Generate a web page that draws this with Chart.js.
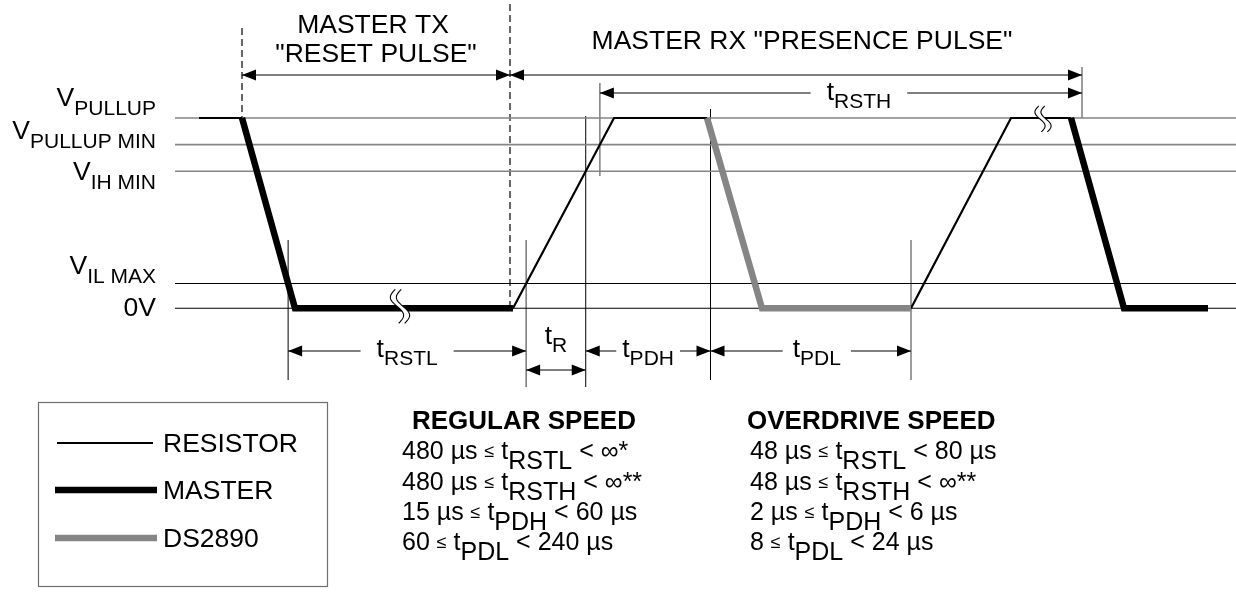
<!DOCTYPE html>
<html lang="en">
<head>
<meta charset="UTF-8">
<title>Reset and presence pulse timing</title>
<script src="https://cdn.jsdelivr.net/npm/chart.js@4.4.1/dist/chart.umd.min.js"></script>
<style>
  html, body { margin: 0; padding: 0; background: #fff; }
  canvas { display: block; }
</style>
</head>
<body>
<canvas id="timing" width="1236" height="609"></canvas>
<script>
// ---- data (diagram is not to scale) ----
// voltage levels, volts
const levelNames = ['PULLUP', 'PULLUP MIN', 'IH MIN', 'IL MAX', '0V'];
const levelValues = [5, 4.3, 3.6, 0.65, 0];

// time in diagram units, null = gap between segments
const resistorT = [19.9, 24.2, null, 51.3, 61.4, 70.7, null, 91.1, 101.1, 107.1];
const resistorV = [5, 5, null, 0, 5, 5, null, 0, 5, 5];
const masterT = [24.2, 29.5, 51.3, null, 107.1, 112.4, 120.8];
const masterV = [5, 0, 0, null, 5, 0, 0];
const ds2890T = [70.7, 76.2, 91.1];
const ds2890V = [5, 0, 0];
const seriesNames = ['RESISTOR', 'MASTER', 'DS2890'];

// windows
const resetStart = 24.2;
const resetEnd = 51.0;
const presenceEnd = 108.2;

// spec table
const specParams = ['RSTL', 'RSTH', 'PDH', 'PDL'];
const regularLow = ['480 µs', '480 µs', '15 µs', '60'];
const regularHigh = ['∞*', '∞**', '60 µs', '240 µs'];
const overdriveLow = ['48 µs', '48 µs', '2 µs', '8'];
const overdriveHigh = ['80 µs', '∞**', '6 µs', '24 µs'];

// ---- layout ----
const X_MAX = 123.6, Y_MIN = -7.9, Y_MAX = 8.1;
const levelFrom = 17.5;
const FONT = '"Liberation Sans", Arial, Helvetica, sans-serif';
const GRAY = '#858585';
const BIG = 26.5, SUB = 21;

const toPoints = (ts, vs) => ts.map((t, i) => ({ x: t, y: vs[i] }));

// where a falling/rising segment i -> i+1 passes a level
function crossing(ts, vs, i, level) {
  const f = (level - vs[i]) / (vs[i + 1] - vs[i]);
  return ts[i] + f * (ts[i + 1] - ts[i]);
}
const tMasterVil = crossing(masterT, masterV, 0, levelValues[3]);
const tRiseVil = crossing(resistorT, resistorV, 3, levelValues[3]);
const tRiseVih = crossing(resistorT, resistorV, 3, levelValues[2]);
const tRisePumin = crossing(resistorT, resistorV, 3, levelValues[1]);
const tPdlStart = ds2890T[0] + 0.35;
const tPdlEnd = ds2890T[2];

function setFont(ctx, size, bold) {
  ctx.font = (bold ? 'bold ' : '') + size + 'px ' + FONT;
}
function runsWidth(ctx, runs) {
  let w = 0;
  runs.forEach(r => { setFont(ctx, r.size, r.bold); w += ctx.measureText(r.text).width; });
  return w;
}
function drawRuns(ctx, x, y, runs, align) {
  const w = runsWidth(ctx, runs);
  let cx = align === 'right' ? x - w : align === 'center' ? x - w / 2 : x;
  ctx.textAlign = 'left';
  ctx.textBaseline = 'alphabetic';
  ctx.fillStyle = '#000';
  runs.forEach(r => {
    setFont(ctx, r.size, r.bold);
    ctx.fillText(r.text, cx, y + (r.dy || 0));
    cx += ctx.measureText(r.text).width;
  });
}
const tSym = sub => [{ text: 't', size: BIG }, { text: sub, size: SUB, dy: 8 }];

function vline(ctx, x, y1, y2, color, width, dash) {
  ctx.save();
  ctx.strokeStyle = color;
  ctx.lineWidth = width;
  ctx.setLineDash(dash || []);
  ctx.beginPath();
  ctx.moveTo(x, y1);
  ctx.lineTo(x, y2);
  ctx.stroke();
  ctx.restore();
}
function arrowHead(ctx, x, y, dir) {
  ctx.beginPath();
  ctx.moveTo(x, y);
  ctx.lineTo(x - dir * 14, y - 5.5);
  ctx.lineTo(x - dir * 14, y + 5.5);
  ctx.closePath();
  ctx.fill();
}
function dimension(ctx, x1, x2, y, label) {
  ctx.save();
  ctx.strokeStyle = '#000';
  ctx.lineWidth = 1.2;
  ctx.beginPath();
  if (label) {
    const w = runsWidth(ctx, label.runs);
    const mid = (x1 + x2) / 2 + (label.shift || 0);
    drawRuns(ctx, mid, label.baseline, label.runs, 'center');
    ctx.moveTo(x1, y); ctx.lineTo(mid - w / 2 - label.pad, y);
    ctx.moveTo(mid + w / 2 + label.pad, y); ctx.lineTo(x2, y);
  } else {
    ctx.moveTo(x1, y); ctx.lineTo(x2, y);
  }
  ctx.stroke();
  ctx.fillStyle = '#000';
  arrowHead(ctx, x1, y, -1);
  arrowHead(ctx, x2, y, 1);
  ctx.restore();
}
// "not to scale" break: two S curves with white between
function breakMark(ctx, x, y, h) {
  const a = h * 0.17, gap = 3;
  const curve = dx => {
    const pts = [];
    for (let i = 0; i <= 24; i++) {
      const s = i / 24;
      pts.push([x + dx - a * Math.sin(2 * Math.PI * s) + h * 0.1 * (s - 0.5), y - h / 2 + s * h]);
    }
    return pts;
  };
  const c1 = curve(-gap), c2 = curve(gap);
  ctx.save();
  ctx.fillStyle = '#fff';
  ctx.beginPath();
  c1.forEach((p, i) => (i ? ctx.lineTo(p[0], p[1]) : ctx.moveTo(p[0], p[1])));
  c2.slice().reverse().forEach(p => ctx.lineTo(p[0], p[1]));
  ctx.closePath();
  ctx.fill();
  ctx.strokeStyle = '#000';
  ctx.lineWidth = 1.1;
  [c1, c2].forEach(c => {
    ctx.beginPath();
    c.forEach((p, i) => (i ? ctx.lineTo(p[0], p[1]) : ctx.moveTo(p[0], p[1])));
    ctx.stroke();
  });
  ctx.restore();
}
function specRuns(lo, sub, hi) {
  const runs = [
    { text: lo + ' ', size: 25 },
    { text: '≤', size: 18, dy: -2 },
    { text: ' t', size: 25 },
    { text: sub, size: 25, dy: 10 },
    { text: ' < ', size: 25 }
  ];
  if (hi.startsWith('∞')) {
    runs.push({ text: '∞', size: 25 }, { text: hi.slice(1), size: 25 });
  } else {
    runs.push({ text: hi, size: 25 });
  }
  return runs;
}

const timingAnnotations = {
  id: 'timingAnnotations',
  beforeDatasetsDraw(chart) {
    const ctx = chart.ctx;
    const X = t => chart.scales.x.getPixelForValue(t);
    const Y = v => chart.scales.y.getPixelForValue(v);
    vline(ctx, X(resetStart), 28, Y(levelValues[0]), '#000', 1.2, [7, 4]);
    vline(ctx, X(resetEnd), 4, Y(0), '#000', 1.2, [7, 4]);
    vline(ctx, X(tMasterVil), 240, 380, '#000', 1, null);
    vline(ctx, X(tRiseVil), 240, 387, '#555', 1.2, null);
    vline(ctx, X(tRiseVih), 116, 387, '#000', 1, null);
    vline(ctx, X(tRisePumin), 83, 176, GRAY, 1.6, null);
    vline(ctx, X(tPdlStart), 109, 380, '#000', 1, null);
    vline(ctx, X(tPdlEnd), 240, 380, GRAY, 1.6, null);
    vline(ctx, X(presenceEnd), 67, 118, GRAY, 1.6, null);
  },
  afterDatasetsDraw(chart) {
    const ctx = chart.ctx;
    const X = t => chart.scales.x.getPixelForValue(t);
    const Y = v => chart.scales.y.getPixelForValue(v);

    breakMark(ctx, X(40.0), Y(0) - 2, 34);
    breakMark(ctx, X(104.3), Y(5) + 1, 26);

    // level names
    const labelBase = [106, 139, 180, 274, 316];
    levelNames.forEach((n, i) => {
      const runs = n === '0V' ? [{ text: n, size: BIG }]
        : [{ text: 'V', size: BIG }, { text: n, size: SUB, dy: 9 }];
      drawRuns(ctx, 156, labelBase[i], runs, 'right');
    });

    // window titles
    drawRuns(ctx, X((resetStart + resetEnd) / 2) - 3, 33, [{ text: 'MASTER TX', size: BIG }], 'center');
    drawRuns(ctx, X((resetStart + resetEnd) / 2), 62, [{ text: '"RESET PULSE"', size: BIG }], 'center');
    drawRuns(ctx, 802, 49, [{ text: 'MASTER RX "PRESENCE PULSE"', size: BIG }], 'center');

    // dimension lines
    dimension(ctx, X(resetStart), X(resetEnd), 75, null);
    dimension(ctx, X(resetEnd), X(presenceEnd), 75, null);
    dimension(ctx, X(tRisePumin), X(presenceEnd), 93,
      { runs: tSym('RSTH'), baseline: 100, pad: 16, shift: 18 });
    dimension(ctx, X(tMasterVil), X(tRiseVil), 351,
      { runs: tSym('RSTL'), baseline: 357, pad: 16 });
    dimension(ctx, X(tRiseVil), X(tRiseVih), 370, null);
    drawRuns(ctx, (X(tRiseVil) + X(tRiseVih)) / 2, 344, tSym('R'), 'center');
    dimension(ctx, X(tRiseVih), X(tPdlStart), 351,
      { runs: tSym('PDH'), baseline: 357, pad: 6 });
    dimension(ctx, X(tPdlStart), X(tPdlEnd), 351,
      { runs: tSym('PDL'), baseline: 357, pad: 10, shift: 6 });

    // legend box, styled from the datasets
    ctx.save();
    ctx.strokeStyle = '#6e6e6e';
    ctx.lineWidth = 1.2;
    ctx.strokeRect(38.5, 402.5, 289, 184);
    const rows = [443, 490, 538];
    seriesNames.forEach((name, i) => {
      const ds = chart.data.datasets[i];
      ctx.strokeStyle = ds.borderColor;
      ctx.lineWidth = ds.borderWidth;
      ctx.beginPath();
      ctx.moveTo(i === 0 ? 57 : 55, rows[i]);
      ctx.lineTo(i === 0 ? 153 : 157, rows[i]);
      ctx.stroke();
      drawRuns(ctx, 163, rows[i] + 9, [{ text: name, size: BIG }], 'left');
    });
    ctx.restore();

    // spec table
    drawRuns(ctx, 412, 429, [{ text: 'REGULAR SPEED', size: 26, bold: true }], 'left');
    drawRuns(ctx, 747, 429, [{ text: 'OVERDRIVE SPEED', size: 26, bold: true }], 'left');
    const rowBase = [459, 490, 520, 550];
    specParams.forEach((p, i) => {
      drawRuns(ctx, 402, rowBase[i], specRuns(regularLow[i], p, regularHigh[i]), 'left');
      drawRuns(ctx, 750, rowBase[i], specRuns(overdriveLow[i], p, overdriveHigh[i]), 'left');
    });
  }
};

const levelSets = levelValues.map((v, i) => ({
  label: levelNames[i],
  data: [{ x: levelFrom, y: v }, { x: X_MAX, y: v }],
  borderColor: i < 3 ? GRAY : '#000',
  borderWidth: i < 3 ? 1.6 : 1.1,
  order: 10
}));

new Chart(document.getElementById('timing'), {
  type: 'line',
  data: {
    datasets: [
      { label: seriesNames[0], data: toPoints(resistorT, resistorV), borderColor: '#000', borderWidth: 2.2, order: 1 },
      { label: seriesNames[1], data: toPoints(masterT, masterV), borderColor: '#000', borderWidth: 6.5, order: 0 },
      { label: seriesNames[2], data: toPoints(ds2890T, ds2890V), borderColor: GRAY, borderWidth: 6.5, order: 0 }
    ].concat(levelSets)
  },
  options: {
    responsive: false,
    animation: false,
    events: [],
    layout: { padding: 0 },
    elements: { point: { radius: 0 }, line: { tension: 0, borderJoinStyle: 'miter' } },
    scales: {
      x: { type: 'linear', min: 0, max: X_MAX, display: false },
      y: { type: 'linear', min: Y_MIN, max: Y_MAX, display: false }
    },
    plugins: { legend: { display: false }, tooltip: { enabled: false } }
  },
  plugins: [timingAnnotations]
});
</script>
</body>
</html>
